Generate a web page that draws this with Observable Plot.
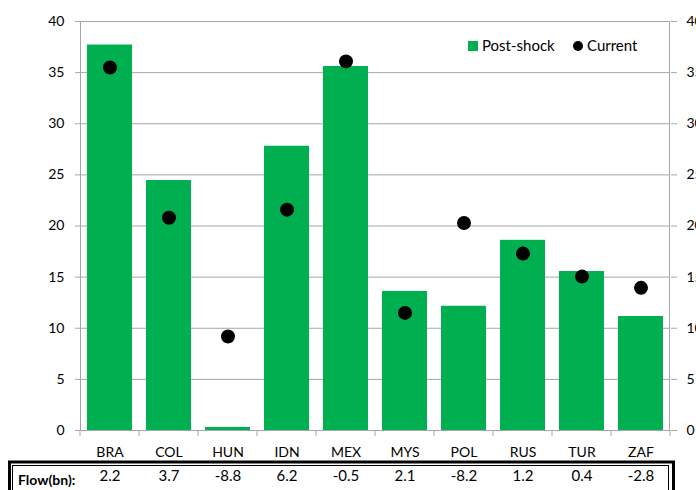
<!DOCTYPE html>
<html><head><meta charset="utf-8">
<script src="https://cdn.jsdelivr.net/npm/d3@7"></script>
<script src="https://cdn.jsdelivr.net/npm/@observablehq/plot@0.6"></script>
<style>body{margin:0;background:#fff} svg{display:block}</style>
</head><body><div id="chart"></div>
<script>
const countries = ["BRA","COL","HUN","IDN","MEX","MYS","POL","RUS","TUR","ZAF"];
const postShock = [37.7,24.45,0.3,27.8,35.6,13.6,12.15,18.6,15.55,11.15];
const current = [35.5,20.8,9.2,21.6,36.1,11.5,20.3,17.3,15.05,13.95];
const flows = ["2.2","3.7","-8.8","6.2","-0.5","2.1","-8.2","1.2","0.4","-2.8"];
const yTicks = [0,5,10,15,20,25,30,35,40];
const seriesNames = ["Post-shock","Current"];
const flowLabel = "Flow(bn):";

const data = countries.map((c,i)=>({country:c, post:postShock[i], cur:current[i], flow:flows[i]}));

const W=696,H=490,mL=80,mR=26,mT=21,mB=60;
const GREEN="#00B050", GRID="#a6a6a6";

const chart = Plot.plot({
  width:W, height:H, marginLeft:mL, marginRight:mR, marginTop:mT, marginBottom:mB,
  style:{fontFamily:"Lato, sans-serif", fontSize:"14px", color:"#000", background:"#fff", overflow:"visible"},
  x:{domain:countries, paddingInner:0.24, paddingOuter:0.12, label:null},
  y:{domain:[0,40], label:null},
  marks:[
    Plot.ruleY(yTicks, {stroke:GRID, strokeWidth:1}),
    Plot.barY(data,{x:"country", y:"post", fill:GREEN}),
    Plot.dot(data,{x:"country", y:"cur", r:7, fill:"#000"}),
    Plot.axisY({ticks:yTicks, tickSize:5, tickPadding:11, stroke:GRID, anchor:"left", label:null, fontSize:14}),
    Plot.axisY({ticks:yTicks, tickSize:6, tickPadding:10, stroke:GRID, anchor:"right", label:null, fontSize:14}),
    Plot.axisX({tickSize:0, tickPadding:17, label:null, fontSize:14}),
    Plot.text(data, {x:"country", text:"flow", frameAnchor:"bottom", dy:50, fontSize:15})
  ]
});
document.getElementById("chart").append(chart);

const svg = d3.select(chart);
const xs = chart.scale("x");
const step = xs.step;
const x0 = mL, x1 = W - mR, y0 = H - mB;
// axis lines
svg.append("line").attr("x1",x0+0.5).attr("x2",x0+0.5).attr("y1",mT).attr("y2",y0).attr("stroke",GRID);
svg.append("line").attr("x1",x1-0.5).attr("x2",x1-0.5).attr("y1",mT).attr("y2",y0).attr("stroke",GRID);
// category boundary ticks
const bounds = countries.map((c,i)=>x0 + i*step).concat([x1]);
svg.append("g").selectAll("line").data(bounds).join("line")
  .attr("x1",d=>d).attr("x2",d=>d).attr("y1",y0).attr("y2",y0+6).attr("stroke",GRID);

// legend
const lg = svg.append("g").attr("font-family","Lato, sans-serif").attr("font-size",15).attr("text-anchor","start");
lg.append("rect").attr("x",468).attr("y",41).attr("width",10).attr("height",10).attr("fill",GREEN);
lg.append("text").attr("x",482).attr("y",46).attr("dy","0.35em").text(seriesNames[0]);
lg.append("circle").attr("cx",578).attr("cy",46).attr("r",5).attr("fill","#000");
lg.append("text").attr("x",587).attr("y",46).attr("dy","0.35em").text(seriesNames[1]);

// table box
const tb = svg.append("g");
tb.append("rect").attr("x",9.5).attr("y",462).attr("width",664).attr("height",60)
  .attr("fill","none").attr("stroke","#000").attr("stroke-width",3);
tb.append("rect").attr("x",12.5).attr("y",465.5).attr("width",656).attr("height",60)
  .attr("fill","none").attr("stroke","#000").attr("stroke-width",1);
tb.append("text").attr("x",18).attr("y",480).attr("dy","0.35em").attr("text-anchor","start")
  .attr("font-family","Lato, sans-serif").attr("font-size",14).attr("font-weight","bold").text(flowLabel);
</script>
</body></html>
